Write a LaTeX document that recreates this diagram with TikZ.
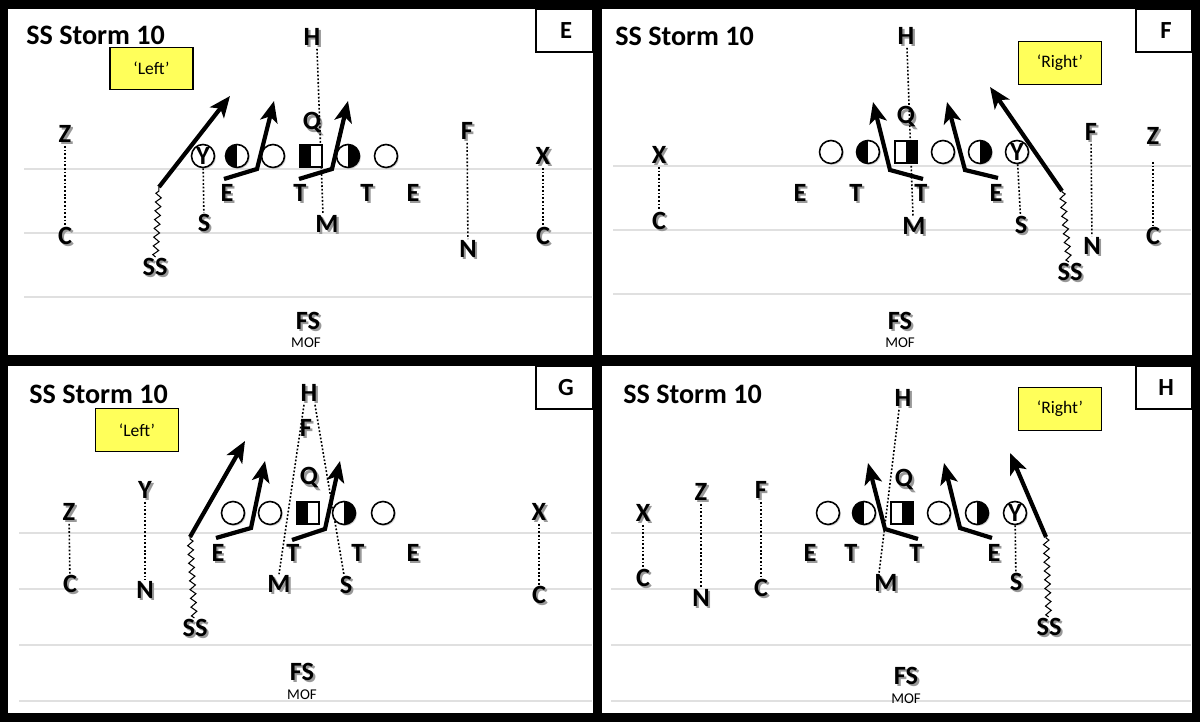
\documentclass[tikz,border=0pt]{standalone}
\usepackage{fontspec}
\setmainfont{Carlito}
\usetikzlibrary{calc,arrows.meta,shadows,decorations.pathmorphing}
\definecolor{callyel}{RGB}{255,255,90}
\newcommand{\plfont}{\fontsize{15}{15}\selectfont\bfseries}
\newcommand{\ttlfont}{\fontsize{16}{17}\selectfont\bfseries}
\newcommand{\shd}[1]{\makebox[0pt][l]{\hspace{1.2pt}\raisebox{-1.2pt}{\textcolor{black!40}{#1}}}#1}
\tikzset{
  pl/.style={font=\plfont, inner sep=0.5pt},
  ttl/.style={font=\ttlfont, inner sep=0pt, anchor=west},
  mof/.style={font=\fontsize{8.5}{9}\selectfont, inner sep=0pt},
  call/.style={draw, line width=0.8pt, fill=callyel, minimum width=1.66cm, minimum height=0.85cm, font=\fontsize{10}{11}\selectfont},
  tagbox/.style={draw, line width=0.6pt, fill=white},
  tagl/.style={font=\fontsize{14}{14}\selectfont\bfseries},
  yard/.style={draw=black!12, line width=0.6pt},
  ol/.style={circle, draw, line width=0.9pt, fill=white, minimum size=0.46cm, inner sep=0pt,
    drop shadow={shadow xshift=0.8pt, shadow yshift=-0.8pt, fill=black!35}},
  ylet/.style={ol, font=\fontsize{15}{15}\selectfont\bfseries},
  lhalf/.style={path picture={\fill[black] (path picture bounding box.south west) rectangle (path picture bounding box.north);}},
  rhalf/.style={path picture={\fill[black] (path picture bounding box.south east) rectangle (path picture bounding box.north);}},
  ctr/.style={ol, rectangle, minimum size=0.44cm},
  assign/.style={line width=0.9pt, dash pattern=on 1pt off 1.1pt},
  rush/.style={line width=2.4pt, -{Stealth[length=12pt, width=10pt, inset=3pt]}},
  bail/.style={line width=0.6pt, decorate, decoration={zigzag, amplitude=1.6pt, segment length=5pt}},
}
\begin{document}
\begin{tikzpicture}[x=0.02cm, y=-0.02cm]
  %%%%% PANELS %%%%%
  \fill[black] (0,0) rectangle (1200,722);
  \fill[white] (8,9) rectangle (593,355);
  \fill[white] (602,9) rectangle (1192,355);
  \fill[white] (8,366) rectangle (593,713);
  \fill[white] (602,366) rectangle (1192,713);
  \foreach \yy in {169,233,297} \draw[yard] (24,\yy) -- (592,\yy);
  \foreach \yy in {166,230,294} \draw[yard] (613,\yy) -- (1191,\yy);
  \foreach \yy in {533,589,645,701} {
    \draw[yard] (19,\yy) -- (592,\yy);
    \draw[yard] (611,\yy) -- (1191,\yy);
  }

  %%%%% E %%%%%
  \node[ttl] (eTitle) at (26,35) {SS Storm 10};
  \draw[tagbox] (536,9) rectangle (593,52);
  \node[tagl] (eTag) at (566,31) {E};
  \node[call] (eCall) at (151.5,68.5) {‘Left’};
  \node[pl] (eH) at (312,38) {\shd{H}};
  \node[pl] (eQ) at (312,124) {\shd{Q}};
  \node[pl] (eZ) at (65,135) {\shd{Z}};
  \node[pl] (eC1) at (65,237) {\shd{C}};
  \node[pl] (eF) at (467,132) {\shd{F}};
  \node[pl] (eN) at (468,250) {\shd{N}};
  \node[pl] (eX) at (543,157) {\shd{X}};
  \node[pl] (eC2) at (543,237) {\shd{C}};
  \node[pl] (eEl) at (227,194) {\shd{E}};
  \node[pl] (eTl) at (300,194) {\shd{T}};
  \node[pl] (eTr) at (367,194) {\shd{T}};
  \node[pl] (eEr) at (413,194) {\shd{E}};
  \node[pl] (eS) at (204,224) {\shd{S}};
  \node[pl] (eM) at (327,225) {\shd{M}};
  \node[pl] (eSS) at (155,268) {\shd{SS}};
  \node[pl] (eFS) at (308,322) {\shd{FS}};
  \node[mof] (eMOF) at (306,343) {MOF};
  \draw[assign] ($(eH.south)+(5,0)$) -- ($(eM.north)+(-4,0)$);
  \draw[assign] (eZ) -- (eC1);
  \draw[assign] (eF) -- (eN);
  \draw[assign] (eX) -- (eC2);
  \node[ylet] (eY) at (203,156) {Y};
  \node[ol, lhalf] (eG1) at (237,156) {};
  \node[ol] (eO1) at (273,156) {};
  \node[ctr, lhalf] (eCtr) at (311,156) {};
  \node[ol, rhalf] (eG2) at (348,156) {};
  \node[ol] (eO2) at (386,156) {};
  \draw[assign] (eY) -- (eS);
  \draw[rush] (224,179) -- (257,169) -- (274,101);
  \draw[rush] (299,179) -- (332,169) -- (348,101);
  \coordinate (eBlitz) at (159,187);
  \draw[bail] (eSS) -- (eBlitz);
  \draw[rush] (eBlitz) -- (230,96);

  %%%%% F %%%%%
  \node[ttl] (fTitle) at (615,36) {SS Storm 10};
  \draw[tagbox] (1136,9) rectangle (1192,52);
  \node[tagl] (fTag) at (1166,31) {F};
  \node[call] (fCall) at (1060,63) {‘Right’};
  \node[pl] (fH) at (906,37) {\shd{H}};
  \node[pl] (fQ) at (906,118) {\shd{Q}};
  \node[pl] (fX) at (659,156) {\shd{X}};
  \node[pl] (fC1) at (659,222) {\shd{C}};
  \node[pl] (fF) at (1091,133) {\shd{F}};
  \node[pl] (fN) at (1092,247) {\shd{N}};
  \node[pl] (fZ) at (1153,137) {\shd{Z}};
  \node[pl] (fC2) at (1153,237) {\shd{C}};
  \node[pl] (fEl) at (800,194) {\shd{E}};
  \node[pl] (fTl) at (856,194) {\shd{T}};
  \node[pl] (fTr) at (921,194) {\shd{T}};
  \node[pl] (fEr) at (996,194) {\shd{E}};
  \node[pl] (fM) at (914,227) {\shd{M}};
  \node[pl] (fS) at (1021,226) {\shd{S}};
  \node[pl] (fSS) at (1070,273) {\shd{SS}};
  \node[pl] (fFS) at (900,322) {\shd{FS}};
  \node[mof] (fMOF) at (900,343) {MOF};
  \draw[assign] ($(fH.south)+(1,0)$) -- ($(fM.north)+(-1,0)$);
  \draw[assign] (fX) -- (fC1);
  \draw[assign] (fF) -- (fN);
  \draw[assign] ($(fZ.south)+(0,14)$) -- (fC2);
  \node[ol] (fO1) at (831,152) {};
  \node[ol, lhalf] (fG1) at (868,152) {};
  \node[ctr, rhalf] (fCtr) at (906,152) {};
  \node[ol] (fO2) at (943,152) {};
  \node[ol, rhalf] (fG2) at (980,152) {};
  \node[ylet] (fY) at (1017,152) {Y};
  \draw[assign] (fY) -- (fS);
  \draw[rush] (923,179) -- (890,170) -- (873,102);
  \draw[rush] (998,178) -- (965,170) -- (947,102);
  \coordinate (fBlitz) at (1062,191);
  \draw[bail] (fSS) -- (fBlitz);
  \draw[rush] (fBlitz) -- (990,87);

  %%%%% G %%%%%
  \node[ttl] (gTitle) at (29,394) {SS Storm 10};
  \draw[tagbox] (536,366) rectangle (593,409);
  \node[tagl] (gTag) at (566,388) {G};
  \node[call] (gCall) at (137,430) {‘Left’};
  \node[pl] (gH) at (309,394) {\shd{H}};
  \node[pl] (gF) at (306,429) {\shd{F}};
  \node[pl] (gQ) at (309,479) {\shd{Q}};
  \node[pl] (gZ) at (69,513) {\shd{Z}};
  \node[pl] (gC1) at (70,585) {\shd{C}};
  \node[pl] (gY) at (145,491) {\shd{Y}};
  \node[pl] (gN) at (145,591) {\shd{N}};
  \node[pl] (gX) at (539,513) {\shd{X}};
  \node[pl] (gC2) at (539,596) {\shd{C}};
  \node[pl] (gEl) at (218,554) {\shd{E}};
  \node[pl] (gTl) at (293,554) {\shd{T}};
  \node[pl] (gTr) at (358,554) {\shd{T}};
  \node[pl] (gEr) at (413,554) {\shd{E}};
  \node[pl] (gM) at (279,585) {\shd{M}};
  \node[pl] (gS) at (346,586) {\shd{S}};
  \node[pl] (gSS) at (195,629) {\shd{SS}};
  \node[pl] (gFS) at (302,673) {\shd{FS}};
  \node[mof] (gMOF) at (302,695) {MOF};
  \draw[assign] ($(gH.south)+(-5,0)$) -- (gM.north);
  \draw[assign] ($(gH.south)+(6,0)$) -- ($(gS.north)+(-2,0)$);
  \draw[assign] (gZ) -- (gC1);
  \draw[assign] (gY) -- (gN);
  \draw[assign] (gX) -- (gC2);
  \node[ol] (gO1) at (233,513) {};
  \node[ol] (gO2) at (270,513) {};
  \node[ctr, lhalf] (gCtr) at (308,513) {};
  \node[ol, rhalf] (gG1) at (344,513) {};
  \node[ol] (gO3) at (383,513) {};
  \draw[rush] (216,538) -- (251,528) -- (265,461);
  \draw[rush] (292,540) -- (325,529) -- (340,461);
  \coordinate (gBlitz) at (190,537);
  \draw[bail] (gSS) -- (gBlitz);
  \draw[rush] (gBlitz) -- (245,441);

  %%%%% H %%%%%
  \node[ttl] (hTitle) at (623,394) {SS Storm 10};
  \draw[tagbox] (1136,366) rectangle (1192,409);
  \node[tagl] (hTag) at (1166,388) {H};
  \node[call] (hCall) at (1060,409) {‘Right’};
  \node[pl] (hH) at (903,399) {\shd{H}};
  \node[pl] (hQ) at (904,481) {\shd{Q}};
  \node[pl] (hX) at (643,514) {\shd{X}};
  \node[pl] (hC1) at (643,579) {\shd{C}};
  \node[pl] (hZ) at (701,493) {\shd{Z}};
  \node[pl] (hN) at (701,599) {\shd{N}};
  \node[pl] (hF) at (761,491) {\shd{F}};
  \node[pl] (hC2) at (761,589) {\shd{C}};
  \node[pl] (hEl) at (810,554) {\shd{E}};
  \node[pl] (hTl) at (851,554) {\shd{T}};
  \node[pl] (hTr) at (916,554) {\shd{T}};
  \node[pl] (hEr) at (994,554) {\shd{E}};
  \node[pl] (hM) at (886,584) {\shd{M}};
  \node[pl] (hS) at (1016,583) {\shd{S}};
  \node[pl] (hSS) at (1049,628) {\shd{SS}};
  \node[pl] (hFS) at (906,677) {\shd{FS}};
  \node[mof] (hMOF) at (906,699) {MOF};
  \draw[assign] ($(hH.south)+(-4,0)$) -- ($(hM.north)+(-7,0)$);
  \draw[assign] (hX) -- (hC1);
  \draw[assign] (hZ) -- (hN);
  \draw[assign] (hF) -- (hC2);
  \node[ol] (hO1) at (828,513) {};
  \node[ol, lhalf] (hG1) at (864,513) {};
  \node[ctr, rhalf] (hCtr) at (902,513) {};
  \node[ol] (hO2) at (939,513) {};
  \node[ol, rhalf] (hG2) at (977,513) {};
  \node[ylet] (hY) at (1015,513) {Y};
  \draw[assign] (hY) -- (hS);
  \draw[rush] (918,539) -- (885,529) -- (868,463);
  \draw[rush] (992,538) -- (960,528) -- (944,463);
  \coordinate (hBlitz) at (1046,537);
  \draw[bail] (hSS) -- (hBlitz);
  \draw[rush] (hBlitz) -- (1010,453);
\end{tikzpicture}
\end{document}
